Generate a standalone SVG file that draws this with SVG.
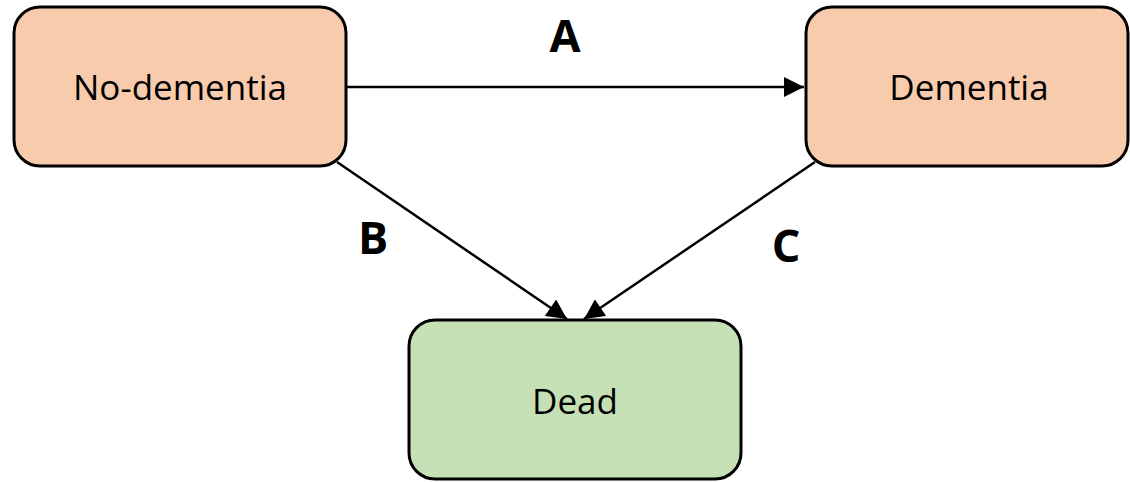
<svg xmlns="http://www.w3.org/2000/svg" width="1130" height="482" viewBox="0 0 1130 482">
<defs>
<style>
.box{stroke:#000;stroke-width:3}
.orange{fill:#F8CBAD}
.green{fill:#C5E0B4}
.lbl{font-family:"Open Sans","Liberation Sans",sans-serif;font-size:35px;fill:#000;text-anchor:middle}
.big{font-family:"Open Sans","Liberation Sans",sans-serif;font-size:45px;font-weight:bold;fill:#000;text-anchor:middle}
.edge{stroke:#000;stroke-width:2.5;fill:none}
</style>
<marker id="arrh" viewBox="0 0 10 10" refX="10" refY="5" markerWidth="8.5" markerHeight="8" orient="auto">
<path d="M0,0 L10,5 L0,10 Z" fill="#000"/>
</marker>
</defs>
<g id="connectors">
<line class="edge" x1="346" y1="87" x2="804" y2="87" marker-end="url(#arrh)"/>
<line class="edge" x1="337" y1="162" x2="567" y2="319" marker-end="url(#arrh)"/>
<line class="edge" x1="815" y1="162" x2="584" y2="319" marker-end="url(#arrh)"/>
<text class="big" x="565" y="52">A</text>
<text class="big" x="373" y="254">B</text>
<text class="big" x="786" y="262">C</text>
</g>
<g id="node-nodementia">
<rect class="box orange" x="14" y="7" width="332" height="159" rx="26"/>
<text class="lbl" x="180" y="100">No-dementia</text>
</g>
<g id="node-dementia">
<rect class="box orange" x="806" y="7" width="322" height="159" rx="26"/>
<text class="lbl" x="969" y="100">Dementia</text>
</g>
<g id="node-dead">
<rect class="box green" x="409" y="320" width="332" height="159" rx="26"/>
<text class="lbl" x="575" y="414">Dead</text>
</g>
</svg>
